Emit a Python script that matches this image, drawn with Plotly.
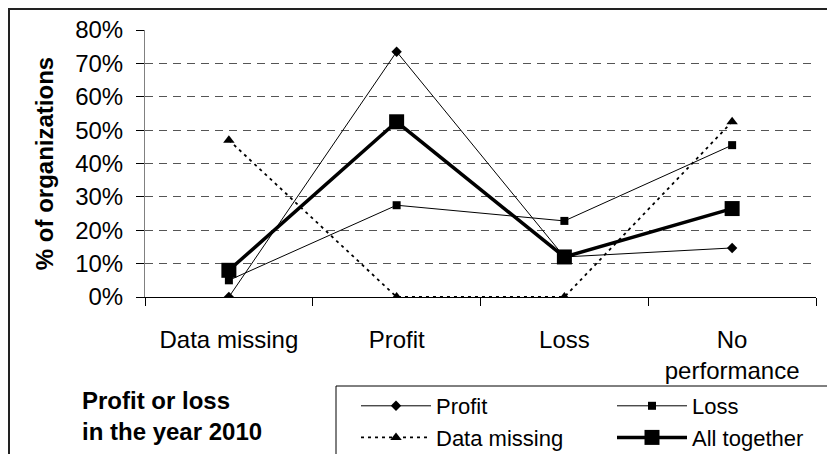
import plotly.graph_objects as go

categories = ["Data missing", "Profit", "Loss", "No<br>performance"]
profit = [0.0, 0.735, 0.12, 0.147]
loss = [0.05, 0.275, 0.228, 0.455]
data_missing = [0.47, 0.0, 0.0, 0.525]
all_together = [0.08, 0.525, 0.12, 0.265]
y_ticks = [0, 0.1, 0.2, 0.3, 0.4, 0.5, 0.6, 0.7, 0.8]

W, H = 835, 454
OFF = 8  # page body margin offset
L, R, T, B = 137, 27, 22, 165
PW, PH = W - L - R, H - T - B

def px_x(p):
    return (p - OFF - L) / PW

def px_y(p):
    return (H - B - (p - OFF)) / PH

FONT = "Liberation Sans, Arial, sans-serif"

fig = go.Figure()
fig.add_trace(go.Scatter(x=categories, y=profit, name="Profit", mode="lines+markers",
                         line=dict(color="black", width=1),
                         marker=dict(symbol="diamond", size=8, color="black")))
fig.add_trace(go.Scatter(x=categories, y=loss, name="Loss", mode="lines+markers",
                         line=dict(color="black", width=1),
                         marker=dict(symbol="square", size=8, color="black")))
fig.add_trace(go.Scatter(x=categories, y=data_missing, name="Data missing", mode="lines+markers",
                         line=dict(color="black", width=1.8, dash="3px,4px"),
                         marker=dict(symbol="triangle-up", size=10, color="black")))
fig.add_trace(go.Scatter(x=categories, y=all_together, name="All together", mode="lines+markers",
                         line=dict(color="black", width=3.5),
                         marker=dict(symbol="square", size=15, color="black")))

fig.update_layout(
    width=W, height=H,
    margin=dict(l=L, r=R, t=T, b=B, autoexpand=False),
    paper_bgcolor="white", plot_bgcolor="white",
    font=dict(family=FONT, color="black"),
    showlegend=True,
    legend=dict(orientation="h", x=px_x(356), y=px_y(385), xanchor="left", yanchor="top",
                font=dict(size=22, family=FONT, color="black"),
                itemwidth=70, entrywidth=171, entrywidthmode="pixels",
                bgcolor="rgba(0,0,0,0)", borderwidth=0, traceorder="normal"),
    xaxis=dict(type="category", range=[-0.5, 3.5], showline=True, linecolor="black", linewidth=1,
               ticks="outside", ticklen=8, tickcolor="black", tickson="boundaries",
               showgrid=False, zeroline=False, ticklabelstandoff=21,
               tickfont=dict(size=24, family=FONT, color="black"), automargin=False),
    yaxis=dict(range=[0, 0.8], tickvals=y_ticks, tickformat=".0%", showline=True,
               linecolor="#808080", linewidth=1, ticks="outside", ticklen=8, tickcolor="black",
               showgrid=True, gridcolor="#555555", griddash="8px,6px", gridwidth=1,
               zeroline=False, ticklabelstandoff=8,
               tickfont=dict(size=24, family=FONT, color="black"), automargin=False,
               title=dict(text="<b>% of organizations</b>", font=dict(size=24, family=FONT, color="black"),
                          standoff=14)),
    shapes=[
        dict(type="rect", xref="paper", yref="paper", x0=px_x(9), y0=px_y(9), x1=px_x(900), y1=px_y(520),
             line=dict(color="#222222", width=2), layer="above"),
        dict(type="rect", xref="paper", yref="paper", x0=px_x(336), y0=px_y(386), x1=px_x(900), y1=px_y(520),
             line=dict(color="black", width=1), layer="above"),
    ],
    annotations=[
        dict(text="<b>Profit or loss</b>", xref="paper", yref="paper", x=px_x(80), y=px_y(400),
             xanchor="left", yanchor="middle", showarrow=False, font=dict(size=24, family=FONT, color="black")),
        dict(text="<b>in the year 2010</b>", xref="paper", yref="paper", x=px_x(80), y=px_y(431),
             xanchor="left", yanchor="middle", showarrow=False, font=dict(size=24, family=FONT, color="black")),
    ],
)

fig.write_html("out.html")
